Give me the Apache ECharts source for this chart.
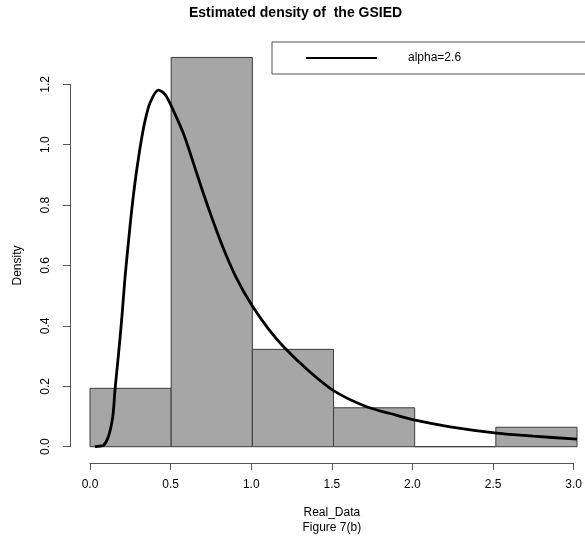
<!DOCTYPE html>
<html>
<head>
<meta charset="utf-8">
<script src="https://cdn.jsdelivr.net/npm/echarts@6/dist/echarts.min.js"></script>
<style>
  html, body { margin: 0; padding: 0; background: #fff; }
  #chart { width: 585px; height: 536px; }
</style>
</head>
<body>
<div id="chart"></div>
<script>
// histogram bins (Real_Data), density scale
var binStart = [0, 0.5, 1.0, 1.5, 2.0, 2.5];
var binEnd = [0.5, 1.0, 1.5, 2.0, 2.5, 3.0];
var binDensity = [0.1935, 1.2903, 0.3226, 0.1290, 0, 0.0645];

// fitted density curve, alpha=2.6
var curveX = [0.03, 0.06, 0.082, 0.113, 0.14, 0.154, 0.174, 0.195, 0.216, 0.236, 0.257, 0.277, 0.298, 0.319, 0.339, 0.37, 0.421, 0.462, 0.50, 0.575, 0.637, 0.698, 0.76, 0.821, 0.903, 1.0, 1.1, 1.2, 1.35, 1.5, 1.70, 1.849, 2.01, 2.218, 2.506, 2.73, 3.0];
var curveY = [0, 0.002, 0.004, 0.033, 0.099, 0.188, 0.298, 0.42, 0.563, 0.674, 0.785, 0.875, 0.955, 1.025, 1.08, 1.14, 1.182, 1.168, 1.13, 1.039, 0.94, 0.84, 0.745, 0.658, 0.558, 0.466, 0.39, 0.327, 0.25, 0.186, 0.133, 0.11, 0.087, 0.066, 0.045, 0.035, 0.025];

var xTicks = ['0.0', '0.5', '1.0', '1.5', '2.0', '2.5', '3.0'];
var yTicks = ['0.0', '0.2', '0.4', '0.6', '0.8', '1.0', '1.2'];

var font = 'Liberation Sans, Arial, sans-serif';
var myChart = echarts.init(document.getElementById('chart'));

var bins = binStart.map(function(s, i) { return [s, binEnd[i], binDensity[i]]; });
var curve = curveX.map(function(x, i) { return [x, curveY[i]]; });

var option = {
  animation: false,
  textStyle: { fontFamily: font, color: '#000' },
  title: {
    text: 'Estimated density of  the GSIED',
    left: 189,
    top: 6,
    padding: 0,
    textStyle: { fontSize: 14, fontWeight: 'bold', color: '#000', fontFamily: font }
  },
  legend: {
    left: 272,
    top: 42,
    padding: [10, 260, 10, 34],
    borderColor: '#555',
    borderWidth: 1,
    borderRadius: 0,
    itemWidth: 71,
    itemHeight: 12,
    data: [{ name: 'alpha=2.6', icon: 'path://M0,0 L100,0 L100,3 L0,3 Z' }],
    itemStyle: { color: '#000' },
    textStyle: { fontSize: 12, color: '#000', fontFamily: font, padding: [0, 0, 0, 26] }
  },
  grid: [
    { left: 90, top: 54.5, width: 487, height: 392.2 },
    { left: 70, top: 84.3, width: 487, height: 362.4 },
    { left: 90, top: 462, width: 487, height: 1 }
  ],
  xAxis: [
    { type: 'value', gridIndex: 0, min: 0, max: 3, show: false },
    { type: 'value', gridIndex: 1, min: 0, max: 3, show: false },
    {
      type: 'value', gridIndex: 2, min: 0, max: 3, interval: 0.5,
      name: 'Real_Data\nFigure 7(b)',
      nameLocation: 'middle',
      nameGap: 42,
      nameTextStyle: { fontSize: 12, color: '#000', lineHeight: 15, fontFamily: font },
      axisLine: { show: true, lineStyle: { color: '#555', width: 1 } },
      axisTick: { show: true, length: 7, lineStyle: { color: '#555' } },
      splitLine: { show: false },
      axisLabel: {
        margin: 16, fontSize: 12, color: '#000', fontFamily: font,
        formatter: function(v) { return xTicks[Math.round(v / 0.5)]; }
      }
    }
  ],
  yAxis: [
    { type: 'value', gridIndex: 0, min: 0, max: 1.3, show: false },
    {
      type: 'value', gridIndex: 1, min: 0, max: 1.2, interval: 0.2,
      name: 'Density',
      nameLocation: 'middle',
      nameGap: 46,
      nameRotate: 90,
      nameTextStyle: { fontSize: 12, color: '#000', fontFamily: font },
      axisLine: { show: true, lineStyle: { color: '#555', width: 1 } },
      axisTick: { show: true, length: 7, lineStyle: { color: '#555' } },
      splitLine: { show: false },
      axisLabel: {
        rotate: 90, margin: 18, fontSize: 12, color: '#000', fontFamily: font,
        formatter: function(v) { return yTicks[Math.round(v / 0.2)]; }
      }
    },
    { type: 'value', gridIndex: 2, min: 0, max: 1, show: false }
  ],
  series: [
    {
      name: 'hist',
      type: 'custom',
      xAxisIndex: 0,
      yAxisIndex: 0,
      encode: { x: [0, 1], y: 2 },
      data: bins,
      z: 1,
      renderItem: function(params, api) {
        var p0 = api.coord([api.value(0), 0]);
        var p1 = api.coord([api.value(1), api.value(2)]);
        return {
          type: 'rect',
          shape: { x: p0[0], y: p1[1], width: p1[0] - p0[0], height: p0[1] - p1[1] },
          style: { fill: '#a6a6a6', stroke: '#3c3c3c', lineWidth: 1 }
        };
      }
    },
    {
      name: 'alpha=2.6',
      type: 'line',
      xAxisIndex: 0,
      yAxisIndex: 0,
      data: curve,
      smooth: 0.3,
      symbol: 'none',
      showSymbol: false,
      z: 3,
      lineStyle: { color: '#000', width: 2.8 },
      itemStyle: { color: '#000' }
    }
  ]
};
myChart.setOption(option);
window.onresize = myChart.resize;
</script>
</body>
</html>
